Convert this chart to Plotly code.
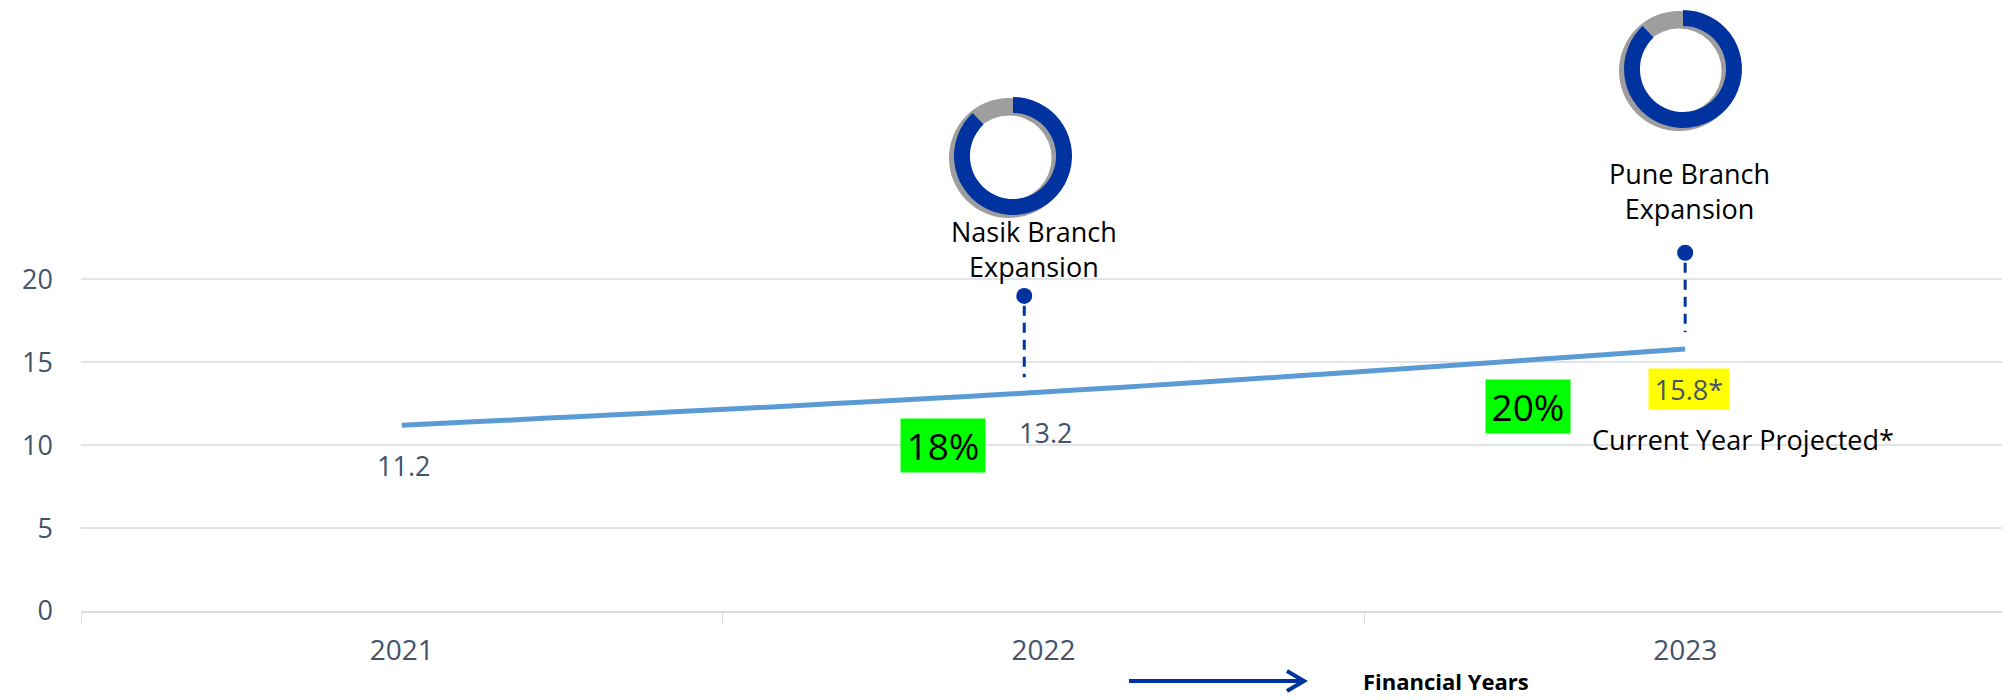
import plotly.graph_objects as go

# ---- data ----
years = ["2021", "2022", "2023"]
values = [11.2, 13.2, 15.8]
value_labels = ["11.2", "13.2", "15.8*"]
growth_labels = ["18%", "20%"]
event_names = ["Nasik Branch<br>Expansion", "Pune Branch<br>Expansion"]
event_x = [0.97, 2.0]
event_top = [19.0, 21.6]
event_bottom = [14.1, 16.8]
donut_share = [88, 12]
ytick_vals = [0, 5, 10, 15, 20]

# ---- layout geometry ----
# the page body adds an 8px offset; work in reference-page pixels and convert
OFF = 8
W, H = 2010 - OFF, 700 - OFF
PLOT_L, PLOT_R, PLOT_T, PLOT_B = 81, 2006, OFF, 611   # page pixels
ML, MR, MT = PLOT_L - OFF, W - (PLOT_R - OFF), 0
MB = H - (PLOT_B - OFF)
PW, PH = PLOT_R - PLOT_L, PLOT_B - PLOT_T
PX_PER_UNIT = 16.585
Y_TOP = PH / PX_PER_UNIT


def fx(X):
    return (X - PLOT_L) / PW


def fy(Y):
    return (PLOT_B - Y) / PH


BLUE = "#0033A0"
LINE = "#5B9BD5"
SLATE = "#44546A"
GRID = "#E1E5EB"
FONT = "Open Sans"

fig = go.Figure()

fig.add_trace(go.Scatter(
    x=list(range(len(years))), y=values, mode="lines",
    line=dict(color=LINE, width=5, shape="spline"),
    hoverinfo="skip", showlegend=False))

for ex, t, b in zip(event_x, event_top, event_bottom):
    fig.add_trace(go.Scatter(x=[ex, ex], y=[t - 0.6, b], mode="lines",
                             line=dict(color=BLUE, width=3, dash="10px,7px"),
                             hoverinfo="skip", showlegend=False))
fig.add_trace(go.Scatter(x=event_x, y=event_top, mode="markers",
                         marker=dict(color=BLUE, size=16),
                         hoverinfo="skip", showlegend=False))

# donuts (page-pixel centres and radii)
donut_centres = [(1013, 156, 59), (1683, 69, 59)]
for cx, cy, r in donut_centres:
    gx, gy, gr = cx - 4, cy + 2, r + 1
    fig.add_trace(go.Pie(values=[1], marker=dict(colors=["#9E9E9E"], line=dict(width=0)),
                         hole=0.71, textinfo="none", hoverinfo="skip", showlegend=False, sort=False,
                         domain=dict(x=[fx(gx - gr), fx(gx + gr)], y=[fy(gy + gr), fy(gy - gr)])))
    fig.add_trace(go.Pie(values=donut_share,
                         marker=dict(colors=[BLUE, "rgba(0,0,0,0)"], line=dict(width=0)),
                         hole=0.73, textinfo="none", hoverinfo="skip", showlegend=False,
                         sort=False, direction="clockwise", rotation=0,
                         domain=dict(x=[fx(cx - r), fx(cx + r)], y=[fy(cy + r), fy(cy - r)])))

ann = []
# value labels
for i, (v, lab) in enumerate(zip(values, value_labels)):
    d = dict(x=i, y=v, xref="x", yref="y", text=lab, showarrow=False, yshift=-40,
             font=dict(family=FONT, size=27, color=SLATE))
    if lab.endswith("*"):
        d.update(bgcolor="#FFFF00", width=80, height=40, borderpad=0, xshift=4)
    else:
        d.update(xshift=2)
    ann.append(d)

# growth labels
growth_pos = [(0.843, 9.95), (1.755, 12.33)]
for (gx, gy), g in zip(growth_pos, growth_labels):
    ann.append(dict(x=gx, y=gy, xref="x", yref="y", text=g, showarrow=False,
                    bgcolor="#00FF00", width=84, height=53, borderpad=0,
                    font=dict(family=FONT, size=37, color="black")))

# event labels
event_label_pos = [(0.985, 21.8), (2.006, 25.3)]
for (ex, ey), name in zip(event_label_pos, event_names):
    ann.append(dict(x=ex, y=ey, xref="x", yref="y", text=name, showarrow=False,
                    font=dict(family=FONT, size=27, color="black")))

ann.append(dict(x=2.09, y=10.37, xref="x", yref="y", text="Current Year Projected*",
                showarrow=False, font=dict(family=FONT, size=27, color="black")))

ann.append(dict(x=fx(1446), y=fy(681), xref="paper", yref="paper", text="<b>Financial Years</b>",
                xanchor="center", yanchor="middle",
                showarrow=False, font=dict(family=FONT, size=22, color="black")))

shapes = [
    dict(type="line", xref="paper", yref="paper", x0=fx(1129), y0=fy(681), x1=fx(1303), y1=fy(681),
         line=dict(color=BLUE, width=4)),
    dict(type="path", xref="paper", yref="paper",
         path=f"M {fx(1287)} {fy(671)} L {fx(1304)} {fy(681)} L {fx(1287)} {fy(691)}",
         line=dict(color=BLUE, width=4)),
]

fig.update_layout(
    width=W, height=H, margin=dict(l=ML, r=MR, t=MT, b=MB, autoexpand=False),
    paper_bgcolor="white", plot_bgcolor="white",
    annotations=ann, shapes=shapes, showlegend=False,
    xaxis=dict(range=[-0.5, 2.5], tickvals=list(range(len(years))), ticktext=years,
               ticks="", showgrid=False, zeroline=False, automargin=False,
               showline=True, linecolor="#D6DCE4", linewidth=2,
               tickfont=dict(family=FONT, size=28, color=SLATE), ticklabelstandoff=13,
               minor=dict(tickmode="array", tickvals=[-0.5, 0.5, 1.5, 2.5], ticks="outside",
                          ticklen=11, tickwidth=1, tickcolor="#D6DCE4", showgrid=False)),
    yaxis=dict(range=[0, Y_TOP], tickvals=ytick_vals, showgrid=True, gridcolor=GRID, gridwidth=2,
               zeroline=False, showline=False, ticks="", automargin=False,
               tickfont=dict(family=FONT, size=27, color=SLATE), ticklabelstandoff=27),
)

fig.write_html("out.html")
